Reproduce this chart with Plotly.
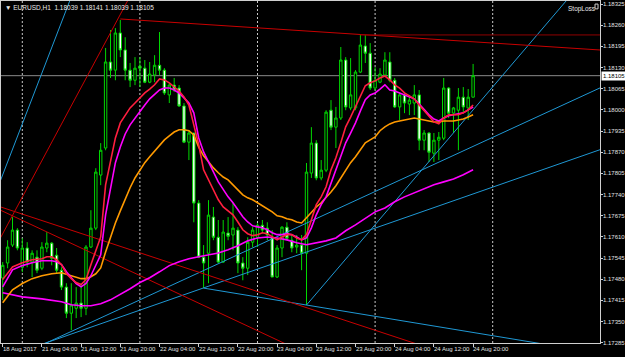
import numpy as np
import plotly.graph_objects as go

# ---------------- data (EURUSD, H1) ----------------
SYMBOL = "EURUSD,H1"
BARS = list(range(97))  # bar positions (18 Aug 2017 20:00 ... 24 Aug 2017 20:00)

OPEN = [1.17484,1.17530,1.17585,1.17631,1.17517,1.17576,1.17533,1.17548,1.17514,1.17576,
        1.17591,1.17554,1.17508,1.17456,1.17376,1.17391,1.17407,1.17391,1.17579,1.17637,
        1.17800,1.17883,1.18147,1.18122,1.18236,1.18184,1.18122,1.18091,1.18134,1.18128,
        1.18085,1.18107,1.18137,1.18122,1.18046,1.18076,1.18067,1.18012,1.17901,1.17929,
        1.17714,1.17548,1.17560,1.17671,1.17609,1.17533,1.17622,1.17616,1.17631,1.17530,
        1.17514,1.17594,1.17609,1.17646,1.17637,1.17609,1.17487,1.17576,1.17640,1.17600,
        1.17579,1.17585,1.17560,1.17806,1.17898,1.17791,1.17815,1.17999,1.17947,1.17975,
        1.18153,1.18006,1.18006,1.18116,1.18196,1.18174,1.18067,1.18085,1.18107,1.18147,
        1.18091,1.18009,1.18046,1.18018,1.18021,1.18046,1.17907,1.17929,1.17867,1.17907,
        1.17913,1.18067,1.17990,1.17999,1.18039,1.18006,1.18039]
HIGH = [1.17533,1.17600,1.17671,1.17637,1.17606,1.17594,1.17569,1.17569,1.17594,1.17625,
        1.17594,1.17576,1.17517,1.17468,1.17468,1.17456,1.17468,1.17585,1.17692,1.17821,
        1.17898,1.18190,1.18245,1.18251,1.18276,1.18223,1.18144,1.18162,1.18162,1.18153,
        1.18147,1.18168,1.18239,1.18128,1.18082,1.18098,1.18076,1.18021,1.17938,1.17929,
        1.17723,1.17585,1.17723,1.17702,1.17662,1.17662,1.17671,1.17714,1.17640,1.17548,
        1.17609,1.17640,1.17652,1.17662,1.17655,1.17631,1.17585,1.17643,1.17655,1.17616,
        1.17616,1.17616,1.17837,1.17947,1.17907,1.17846,1.17999,1.18030,1.18009,1.18193,
        1.18162,1.18159,1.18122,1.18230,1.18230,1.18205,1.18131,1.18128,1.18177,1.18177,
        1.18098,1.18052,1.18052,1.18046,1.18076,1.18061,1.17938,1.17932,1.17929,1.17932,
        1.18098,1.18070,1.18009,1.18067,1.18070,1.18064,1.18141]
LOW = [1.17416,1.17514,1.17579,1.17569,1.17502,1.17517,1.17487,1.17499,1.17508,1.17563,
       1.17523,1.17499,1.17447,1.17361,1.17324,1.17361,1.17364,1.17370,1.17576,1.17631,
       1.17769,1.17876,1.18098,1.18091,1.18162,1.18091,1.18070,1.18076,1.18070,1.18082,
       1.18082,1.18085,1.18107,1.18046,1.18021,1.18055,1.18009,1.17898,1.17846,1.17655,
       1.17545,1.17453,1.17468,1.17600,1.17530,1.17530,1.17600,1.17569,1.17499,1.17477,
       1.17493,1.17579,1.17579,1.17622,1.17600,1.17487,1.17484,1.17548,1.17600,1.17563,
       1.17560,1.17508,1.17401,1.17791,1.17784,1.17784,1.17809,1.17938,1.17883,1.17969,
       1.17999,1.17999,1.17999,1.18113,1.18144,1.18061,1.18061,1.18082,1.18101,1.18085,
       1.18006,1.17969,1.17990,1.17984,1.17984,1.17876,1.17876,1.17840,1.17840,1.17846,
       1.17907,1.17975,1.17929,1.17876,1.17990,1.17969,1.18039]
CLOSE = [1.17523,1.17579,1.17631,1.17576,1.17576,1.17533,1.17560,1.17508,1.17579,1.17591,
         1.17545,1.17508,1.17456,1.17376,1.17401,1.17407,1.17391,1.17579,1.17637,1.17809,
         1.17876,1.18147,1.18122,1.18236,1.18184,1.18122,1.18091,1.18128,1.18128,1.18085,
         1.18110,1.18137,1.18122,1.18052,1.18076,1.18061,1.18012,1.17901,1.17929,1.17714,
         1.17548,1.17530,1.17677,1.17609,1.17533,1.17625,1.17612,1.17637,1.17530,1.17514,
         1.17594,1.17631,1.17646,1.17631,1.17616,1.17487,1.17576,1.17640,1.17606,1.17576,
         1.17585,1.17560,1.17809,1.17898,1.17791,1.17815,1.17993,1.17947,1.17975,1.18153,
         1.18009,1.18046,1.18116,1.18199,1.18174,1.18067,1.18091,1.18110,1.18153,1.18091,
         1.18009,1.18046,1.18021,1.18030,1.18046,1.17907,1.17929,1.17870,1.17907,1.17916,
         1.18067,1.17990,1.18006,1.18039,1.18009,1.18039,1.18105]

# moving averages (bar position, price)
FAST_IDX = [0, 2, 4, 6, 8] + list(range(9, 97))
FAST_MA = [1.17479,1.17518,1.17531,1.17540,1.17543,
           1.17549,1.17549,1.17540,1.17525,1.17497,1.17482,1.17470,1.17464,1.17479,1.17525,
           1.17571,1.17610,1.17770,1.17847,1.17914,1.17960,1.17985,1.18006,1.18021,1.18037,
           1.18052,1.18064,1.18077,1.18095,1.18092,1.18083,1.18070,1.18058,1.18040,1.18015,
           1.17954,1.17893,1.17816,1.17785,1.17755,1.17724,1.17702,1.17690,1.17678,1.17656,
           1.17632,1.17620,1.17614,1.17617,1.17623,1.17620,1.17610,1.17601,1.17610,1.17617,
           1.17617,1.17607,1.17601,1.17617,1.17663,1.17709,1.17733,1.17764,1.17816,1.17853,
           1.17899,1.17948,1.17978,1.18009,1.18040,1.18074,1.18083,1.18089,1.18098,1.18104,
           1.18092,1.18077,1.18067,1.18052,1.18043,1.18034,1.18015,1.17997,1.17978,1.17963,
           1.17957,1.17975,1.17985,1.17985,1.17985,1.17991,1.18000,1.18015]
MID_IDX = FAST_IDX
MID_MA = [1.17457,1.17509,1.17522,1.17531,1.17537,
          1.17537,1.17537,1.17534,1.17525,1.17503,1.17485,1.17467,1.17457,1.17467,1.17491,
          1.17522,1.17555,1.17678,1.17764,1.17838,1.17886,1.17926,1.17954,1.17975,1.17994,
          1.18015,1.18034,1.18049,1.18061,1.18067,1.18067,1.18061,1.18052,1.18037,1.18021,
          1.17991,1.17914,1.17871,1.17838,1.17810,1.17779,1.17755,1.17733,1.17715,1.17693,
          1.17672,1.17656,1.17644,1.17641,1.17638,1.17632,1.17623,1.17617,1.17617,1.17620,
          1.17617,1.17610,1.17601,1.17607,1.17638,1.17678,1.17709,1.17733,1.17776,1.17816,
          1.17856,1.17899,1.17929,1.17960,1.17997,1.18031,1.18046,1.18052,1.18064,1.18077,
          1.18061,1.18058,1.18052,1.18046,1.18040,1.18034,1.18018,1.18000,1.17985,1.17972,
          1.17966,1.17975,1.17982,1.17985,1.17988,1.17991,1.18000,1.18009]
ORANGE_IDX = [0, 2, 4, 6, 8, 10, 12, 14, 16] + list(range(17, 97))
ORANGE_MA = [1.17408,1.17448,1.17467,1.17482,1.17491,1.17497,1.17500,1.17491,1.17482,
             1.17482,1.17488,1.17497,1.17515,1.17564,1.17610,1.17653,1.17690,1.17727,1.17761,
             1.17791,1.17816,1.17838,1.17856,1.17874,1.17893,1.17908,1.17920,1.17932,1.17939,
             1.17939,1.17936,1.17923,1.17886,1.17859,1.17841,1.17822,1.17807,1.17794,1.17785,
             1.17770,1.17755,1.17739,1.17730,1.17724,1.17715,1.17706,1.17696,1.17687,1.17675,
             1.17672,1.17666,1.17663,1.17656,1.17653,1.17669,1.17687,1.17702,1.17715,1.17730,
             1.17748,1.17767,1.17791,1.17816,1.17838,1.17856,1.17877,1.17899,1.17908,1.17917,
             1.17936,1.17948,1.17957,1.17963,1.17966,1.17969,1.17972,1.17975,1.17972,1.17969,
             1.17966,1.17963,1.17963,1.17966,1.17966,1.17966,1.17969,1.17972,1.17978,1.17985]
SLOW_IDX = [0, 4, 8, 12] + list(range(14, 97, 2))
SLOW_MA = [1.17439,1.17426,1.17420,1.17411,
           1.17402,1.17399,1.17399,1.17405,1.17417,1.17433,1.17451,1.17470,1.17485,1.17503,
           1.17522,1.17534,1.17543,1.17549,1.17555,1.17561,1.17571,1.17583,1.17598,1.17607,
           1.17610,1.17607,1.17601,1.17592,1.17586,1.17592,1.17598,1.17607,1.17629,1.17647,
           1.17666,1.17687,1.17699,1.17718,1.17733,1.17745,1.17758,1.17770,1.17779,1.17788,
           1.17801,1.17816]

# trend lines: (anchor bar, anchor price, anchor bar, anchor price, mode, colour)
TL_BLUE = "#1f98d4"
TL_RED = "#c80000"
TL_DARKRED = "#900000"
TRENDLINES = [
    (0, 1.17801, 13, 1.18308, "both", TL_BLUE),
    (14, 1.17320, 96, 1.17888, "both", TL_BLUE),
    (14, 1.17312, 96, 1.17742, "both", TL_BLUE),
    (62, 1.17401, 96, 1.18000, "ray", TL_BLUE),      # StopLoss
    (41, 1.17453, 62, 1.17401, "ray", TL_BLUE),
    (0, 1.17620, 24, 1.18293, "both", TL_RED),
    (24, 1.18279, 96, 1.18209, "ray", TL_RED),
    (73, 1.18230, 96, 1.18230, "ray", TL_DARKRED),
    (0, 1.17700, 83, 1.17289, "both", TL_RED),
    (0, 1.17689, 56, 1.17294, "both", TL_RED),
]

SEPARATORS = [4, 28, 52, 76, 100]  # day starts
X_TICK_IDX = [0, 8, 16, 24, 32, 40, 48, 56, 64, 72, 80, 88, 96]
X_TICK_TEXT = ["18 Aug 2017", "21 Aug 04:00", "21 Aug 12:00", "21 Aug 20:00",
               "22 Aug 04:00", "22 Aug 12:00", "22 Aug 20:00", "23 Aug 04:00",
               "23 Aug 12:00", "23 Aug 20:00", "24 Aug 04:00", "24 Aug 12:00",
               "24 Aug 20:00"]
Y_TICKS = [1.17285, 1.17350, 1.17415, 1.17480, 1.17545, 1.17610, 1.17675, 1.17740,
           1.17805, 1.17870, 1.17935, 1.18000, 1.18065, 1.18130, 1.18195, 1.18260, 1.18325]

X_RANGE = [-0.347, 121.898]
Y_RANGE = [1.172845, 1.183342]

# ---------------- figure ----------------
GREEN = "#00d800"
FONT = "Liberation Sans"
TXT = "#e0e0e0"
fig = go.Figure()

for a0, p0, a1, p1, mode, col in TRENDLINES:
    slope = (p1 - p0) / (a1 - a0)
    xs = np.array([X_RANGE[0] - 5, X_RANGE[1] + 5]) if mode == "both" else np.array([a0, X_RANGE[1] + 5])
    ys = p0 + slope * (xs - a0)
    fig.add_trace(go.Scatter(x=xs, y=ys, mode="lines", line=dict(color=col, width=1),
                             hoverinfo="skip"))

fig.add_trace(go.Candlestick(
    x=BARS, open=OPEN, high=HIGH, low=LOW, close=CLOSE,
    increasing=dict(line=dict(color=GREEN, width=1), fillcolor="black"),
    decreasing=dict(line=dict(color=GREEN, width=1), fillcolor="white"),
    whiskerwidth=0, hoverinfo="skip"))

for idx, vals, col in [(SLOW_IDX, SLOW_MA, "#ff00ff"), (ORANGE_IDX, ORANGE_MA, "#ff9a00"),
                       (MID_IDX, MID_MA, "#ff00ff"), (FAST_IDX, FAST_MA, "#ff1f3f")]:
    fig.add_trace(go.Scatter(x=idx, y=vals, mode="lines", line=dict(color=col, width=1.6),
                             hoverinfo="skip"))

shapes = []
for s in SEPARATORS:
    shapes.append(dict(type="line", xref="x", yref="paper", x0=s, x1=s, y0=0, y1=1,
                       line=dict(color="#c8c8c8", width=1, dash="2px,2px"), layer="below"))
shapes.append(dict(type="line", xref="paper", yref="y", x0=0, x1=1, y0=CLOSE[-1], y1=CLOSE[-1],
                   line=dict(color="#8a8a8a", width=1), layer="below"))
shapes.append(dict(type="rect", xref="paper", yref="paper", x0=0.9917, x1=0.9967,
                   y0=0.977, y1=0.991, line=dict(color="#d0d0d0", width=1)))

header = "\u25BC " + SYMBOL + "  " + " ".join(f"{v:.5f}" for v in (OPEN[-1], HIGH[-1], LOW[-1], CLOSE[-1]))
annotations = [
    dict(text=header, xref="paper", yref="paper", x=0.003, y=0.996, xanchor="left", yanchor="top",
         showarrow=False, font=dict(family=FONT, size=6.5, color="#e8e8e8")),
    dict(text="StopLoss", xref="paper", yref="paper", x=0.944, y=0.994, xanchor="left", yanchor="top",
         showarrow=False, font=dict(family=FONT, size=6.5, color="#e8e8e8")),
]
for v, t in zip(X_TICK_IDX, X_TICK_TEXT):
    annotations.append(dict(text=t, xref="x", yref="paper", x=v, y=0, xanchor="left", yanchor="top",
                            xshift=-1, yshift=-2, showarrow=False, borderpad=0,
                            font=dict(family=FONT, size=6, color=TXT)))
for v in Y_TICKS:
    annotations.append(dict(text=f"{v:.5f}", xref="paper", yref="y", x=1, y=v, xanchor="left",
                            yanchor="middle", xshift=2, showarrow=False, borderpad=0,
                            font=dict(family=FONT, size=6, color=TXT)))
annotations.append(dict(text=f"{CLOSE[-1]:.5f}", xref="paper", yref="y", x=1, y=CLOSE[-1], xanchor="left",
                        yanchor="middle", xshift=1, showarrow=False, bgcolor="white", borderpad=1,
                        font=dict(family=FONT, size=6, color="black")))

fig.update_layout(
    width=625, height=357, margin=dict(l=1, r=25, t=1, b=14),
    paper_bgcolor="black", plot_bgcolor="black", showlegend=False,
    shapes=shapes, annotations=annotations,
    xaxis=dict(range=X_RANGE, showgrid=False, zeroline=False, showline=True, mirror=True,
               linecolor="#d0d0d0", linewidth=1, ticks="outside", ticklen=3, tickcolor="#d0d0d0",
               tickvals=X_TICK_IDX, showticklabels=False,
               rangeslider=dict(visible=False), automargin=False, fixedrange=True),
    yaxis=dict(range=Y_RANGE, side="right", showgrid=False, zeroline=False, showline=True, mirror=True,
               linecolor="#d0d0d0", linewidth=1, ticks="outside", ticklen=2, tickcolor="#d0d0d0",
               tickvals=Y_TICKS, showticklabels=False,
               automargin=False, fixedrange=True),
)

fig.write_html("out.html")
